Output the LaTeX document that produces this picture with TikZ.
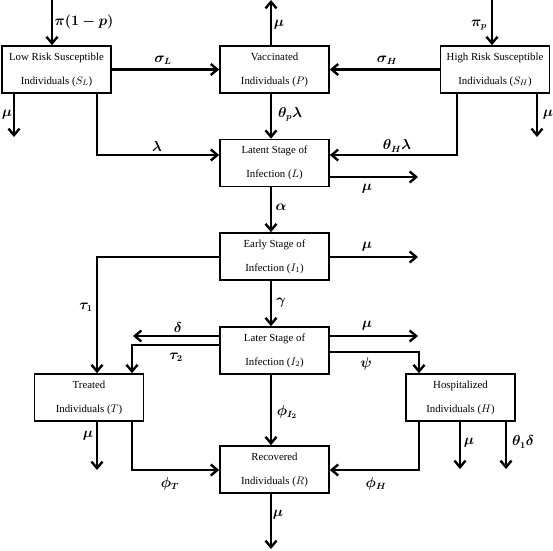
\documentclass[tikz,border=0pt]{standalone}
\usepackage{amsmath,bm}
\usepackage{fontspec}
\setmainfont{Liberation Serif}
\usetikzlibrary{arrows.meta}
\begin{document}
\begin{tikzpicture}[x=1pt,y=-1pt,
  box/.style={draw,line width=1.7pt,minimum width=109pt,minimum height=47pt,inner sep=0pt,align=center,font=\fontsize{10.8}{24}\selectfont},
  flow/.style={line width=2.4pt,-{Straight Barb[length=6.5pt,width=11pt]}},
  lab/.style={font=\fontsize{13.5}{15}\selectfont}]
\useasboundingbox (0,0) rectangle (553,550);
% boxes
\node[box] (SL) at (56.5,69.5) {Low Risk Susceptible\\Individuals ($S_L$)};
\node[box] (P) at (274.5,69.5) {Vaccinated\\Individuals ($P$)};
\node[box] (SH) at (495,69.5) {High Risk Susceptible\\Individuals ($S_H$)};
\node[box] (L) at (274.5,163) {Latent Stage of\\Infection ($L$)};
\node[box] (I1) at (274.5,256.5) {Early Stage of\\Infection ($I_1$)};
\node[box] (I2) at (274.5,350.5) {Later Stage of\\Infection ($I_2$)};
\node[box] (T) at (89,397.5) {Treated\\Individuals ($T$)};
\node[box] (H) at (460.5,397.5) {Hospitalized\\Individuals ($H$)};
\node[box] (R) at (274.5,469.5) {Recovered\\Individuals ($R$)};
% free ends
\coordinate (inSL) at (52,0);
\coordinate (inSH) at (492,0);
\coordinate (muSL) at (14,137);
\coordinate (muSH) at (537,137);
\coordinate (muP) at (271,0);
\coordinate (muL) at (418,177);
\coordinate (muI1) at (418,257);
\coordinate (muI2) at (418,336);
\coordinate (dI2) at (133,336);
\coordinate (muT) at (97,470);
\coordinate (muH) at (460,469);
\coordinate (dH) at (506,469);
\coordinate (muR) at (271,549);
\coordinate (cL) at (97,155);
\coordinate (cH) at (457,155);
\coordinate (cT1) at (97,257);
\coordinate (cT2) at (132,345);
\coordinate (cPsi) at (419,352);
\coordinate (cPT) at (132,470);
\coordinate (cPH) at (419,470);
% connectors
\draw[flow] (inSL) -- (SL.north -| inSL);
\draw[flow] (inSH) -- (SH.north -| inSH);
\draw[flow] (SL.south -| muSL) -- (muSL);
\draw[flow] (SH.south -| muSH) -- (muSH);
\draw[flow] (SL.east) -- (P.west);
\draw[flow] (SH.west) -- (P.east);
\draw[flow] (P.north -| muP) -- (muP);
\draw[flow] (SL.south -| cL) -- (cL) -- (L.west |- cL);
\draw[flow] (SH.south -| cH) -- (cH) -- (L.east |- cH);
\draw[flow] (P.south -| muP) -- (L.north -| muP);
\draw[flow] (L.east |- muL) -- (muL);
\draw[flow] (L.south -| muP) -- (I1.north -| muP);
\draw[flow] (I1.east |- muI1) -- (muI1);
\draw[flow] (I1.west |- cT1) -- (cT1) -- (T.north -| cT1);
\draw[flow] (I1.south -| muP) -- (I2.north -| muP);
\draw[flow] (I2.west |- dI2) -- (dI2);
\draw[flow] (I2.west |- cT2) -- (cT2) -- (T.north -| cT2);
\draw[flow] (I2.east |- muI2) -- (muI2);
\draw[flow] (I2.east |- cPsi) -- (cPsi) -- (H.north -| cPsi);
\draw[flow] (I2.south -| muP) -- (R.north -| muP);
\draw[flow] (T.south -| muT) -- (muT);
\draw[flow] (T.south -| cPT) -- (cPT) -- (R.west |- cPT);
\draw[flow] (H.south -| cPH) -- (cPH) -- (R.east |- cPH);
\draw[flow] (H.south -| muH) -- (muH);
\draw[flow] (H.south -| dH) -- (dH);
\draw[flow] (R.south -| muR) -- (muR);
% labels
\node[lab] (l1) at (84,22) {$\bm{\pi(1-p)}$};
\node[lab] (l2) at (479,25) {$\bm{\pi_p}$};
\node[lab] (l3) at (7,115) {$\bm{\mu}$};
\node[lab] (l4) at (548,115) {$\bm{\mu}$};
\node[lab] (l5) at (163,60) {$\bm{\sigma_L}$};
\node[lab] (l6) at (387,60) {$\bm{\sigma_H}$};
\node[lab] (l7) at (279,25) {$\bm{\mu}$};
\node[lab] (l8) at (157,146) {$\bm{\lambda}$};
\node[lab] (l9) at (397,146) {$\bm{\theta_H\lambda}$};
\node[lab] (l10) at (290,114) {$\bm{\theta_p\lambda}$};
\node[lab] (l11) at (367,189) {$\bm{\mu}$};
\node[lab] (l12) at (281,207) {$\bm{\alpha}$};
\node[lab] (l13) at (367,247) {$\bm{\mu}$};
\node[lab] (l14) at (86,307) {$\bm{\tau_1}$};
\node[lab] (l15) at (281,303) {$\bm{\gamma}$};
\node[lab] (l16) at (178,327) {$\bm{\delta}$};
\node[lab] (l17) at (176,357) {$\bm{\tau_2}$};
\node[lab] (l18) at (367,326) {$\bm{\mu}$};
\node[lab] (l19) at (366,364) {$\bm{\psi}$};
\node[lab] (l20) at (287,412) {$\bm{\phi_{I_2}}$};
\node[lab] (l21) at (88,436) {$\bm{\mu}$};
\node[lab] (l22) at (170,484) {$\bm{\phi_T}$};
\node[lab] (l23) at (376,484) {$\bm{\phi_H}$};
\node[lab] (l24) at (469,443) {$\bm{\mu}$};
\node[lab] (l25) at (523,442) {$\bm{\theta_1\delta}$};
\node[lab] (l26) at (278,515) {$\bm{\mu}$};
\end{tikzpicture}
\end{document}
